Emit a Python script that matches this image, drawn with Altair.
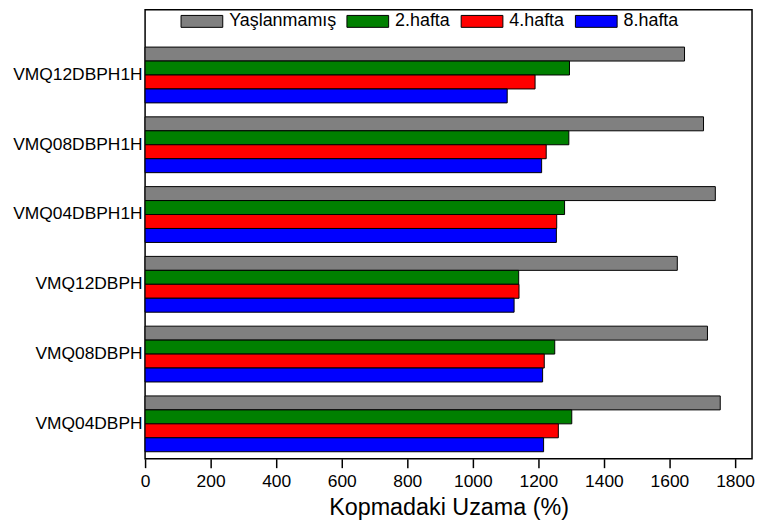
import altair as alt
import pandas as pd

categories = ["VMQ12DBPH1H", "VMQ08DBPH1H", "VMQ04DBPH1H", "VMQ12DBPH", "VMQ08DBPH", "VMQ04DBPH"]
series = ["Yaşlanmamış", "2.hafta", "4.hafta", "8.hafta"]
colors = ["#808080", "#008000", "#ff0000", "#0000ff"]
yaslanmamis = [1646, 1704, 1740, 1624, 1716, 1755]
hafta2 = [1295, 1293, 1280, 1140, 1250, 1302]
hafta4 = [1190, 1224, 1256, 1141, 1218, 1261]
hafta8 = [1105, 1210, 1255, 1126, 1213, 1216]
x_ticks = [0, 200, 400, 600, 800, 1000, 1200, 1400, 1600, 1800]

rows = []
for s, vals in zip(series, [yaslanmamis, hafta2, hafta4, hafta8]):
    for c, v in zip(categories, vals):
        rows.append({"sample": c, "series": s, "value": v})
df = pd.DataFrame(rows)

FONT = "Liberation Sans"

chart = alt.Chart(df).mark_bar(stroke="black", strokeWidth=1, opacity=1).encode(
    x=alt.X("value:Q",
            scale=alt.Scale(domain=[0, 1852], nice=False, zero=True),
            axis=alt.Axis(values=x_ticks, format="d", title="Kopmadaki Uzama (%)",
                          grid=False, domain=False, tickSize=9, tickWidth=1.5,
                          tickColor="black", labelColor="black", labelFontSize=17.5,
                          labelFont=FONT, labelPadding=5, titleFont=FONT,
                          titleFontSize=23.5, titleFontWeight="normal", titleColor="black",
                          titlePadding=6, labelFlush=False)),
    y=alt.Y("sample:N", sort=categories,
            scale=alt.Scale(range=[30.6, 452], paddingInner=0.2, paddingOuter=0.1),
            axis=alt.Axis(title=None, ticks=False, domain=False, labelFontSize=17.5,
                          labelFont=FONT, labelColor="black", labelPadding=3,
                          labelLimit=300)),
    yOffset=alt.YOffset("series:N", sort=series, scale=alt.Scale(paddingInner=0, paddingOuter=0)),
    fill=alt.Fill("series:N", sort=series,
                  scale=alt.Scale(domain=series, range=colors),
                  legend=alt.Legend(title=None, orient="none", legendX=35.7, legendY=-10,
                                    direction="horizontal", columns=4,
                                    symbolType="M-1,-0.2857L1,-0.2857L1,0.2857L-1,0.2857Z",
                                    symbolSize=1764, symbolStrokeColor="black",
                                    symbolStrokeWidth=1, symbolOpacity=1,
                                    labelFontSize=18, labelFont=FONT, labelColor="black",
                                    labelOffset=6, columnPadding=8, labelLimit=300)),
).properties(
    width=611, height=452,
    autosize=alt.AutoSizeParams(type="none"),
    padding={"left": 138, "top": 0, "right": 4, "bottom": 65},
).configure_view(stroke="black", strokeWidth=1.5)

chart.save("out.html", embed_options={"renderer": "svg", "actions": False})
